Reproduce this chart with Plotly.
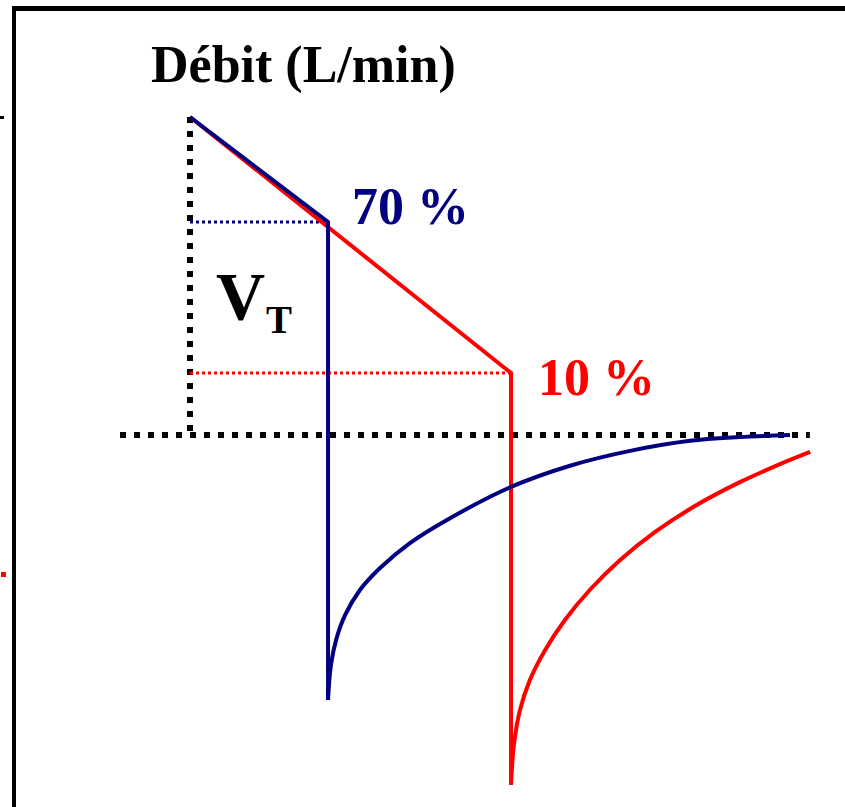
import plotly.graph_objects as go

# inspiratory ramp + cycling drop (time in s, flow in L/min)
peak_flow = 60.0
blue_insp_t = [0.0, 0.43, 0.43]
blue_insp_f = [60.0, 40.2, -50.0]
red_insp_t = [0.0, 1.0, 1.0]
red_insp_f = [60.0, 11.7, -66.0]

# expiratory curves
blue_exp_t = [0.430, 0.439, 0.455, 0.483, 0.530, 0.592, 0.685, 0.810, 1.000, 1.184, 1.371, 1.558, 1.713, 1.869]
blue_exp_f = [-50.0, -43.4, -38.7, -34.0, -29.2, -25.1, -20.4, -15.7, -9.8, -5.8, -3.0, -1.1, -0.4, 0.0]
red_exp_t = [1.000, 1.009, 1.028, 1.059, 1.106, 1.168, 1.246, 1.340, 1.449, 1.573, 1.713, 1.838, 1.932]
red_exp_f = [-66.0, -58.5, -51.9, -46.2, -40.6, -34.9, -29.2, -23.6, -18.3, -13.4, -8.9, -5.5, -3.2]

# guide lines
base_t = [-0.218, 1.931]
blue_cut_f = 40.2
red_cut_f = 11.7

navy = '#000080'
red = '#ff0000'

fig = go.Figure()

# black dotted: tidal volume marker + zero flow line
fig.add_trace(go.Scatter(x=[0, 0], y=[peak_flow, 0], mode='lines',
                         line=dict(color='black', width=6, dash='6px,8px')))
fig.add_trace(go.Scatter(x=base_t, y=[0, 0], mode='lines',
                         line=dict(color='black', width=6, dash='6px,8px')))
# thin coloured dotted guides
fig.add_trace(go.Scatter(x=[0, blue_insp_t[1]], y=[blue_cut_f, blue_cut_f], mode='lines',
                         line=dict(color=navy, width=3, dash='3px,3px')))
fig.add_trace(go.Scatter(x=[0, red_insp_t[1]], y=[red_cut_f, red_cut_f], mode='lines',
                         line=dict(color=red, width=3, dash='3px,3px')))

# red (10 %)
fig.add_trace(go.Scatter(x=red_insp_t, y=red_insp_f, mode='lines',
                         line=dict(color=red, width=4)))
fig.add_trace(go.Scatter(x=red_exp_t, y=red_exp_f, mode='lines',
                         line=dict(color=red, width=4, shape='spline', smoothing=1)))
# blue (70 %)
fig.add_trace(go.Scatter(x=blue_insp_t, y=blue_insp_f, mode='lines',
                         line=dict(color=navy, width=4)))
fig.add_trace(go.Scatter(x=blue_exp_t, y=blue_exp_f, mode='lines',
                         line=dict(color=navy, width=4, shape='spline', smoothing=1)))

W, H = 845, 807


def px(x):
    return x / W


def py(y):
    return 1 - y / H


serif = 'Liberation Serif'


def label(x, y, text, size, color):
    fig.add_annotation(x=px(x), y=py(y), xref='paper', yref='paper', text=text,
                       xanchor='center', yanchor='middle', showarrow=False,
                       font=dict(family=serif, size=size, color=color))


label(303, 65, '<b>Débit (L/min)</b>', 52, 'black')
label(410, 206, '<b>70 %</b>', 52, navy)
label(596, 377, '<b>10 %</b>', 52, red)
label(240, 296, '<b>V</b>', 68, 'black')
label(279, 319, '<b>T</b>', 39, 'black')

# frame and small cropped remnants on the left
fig.add_shape(type='line', xref='paper', yref='paper', x0=px(12), x1=1, y0=py(8.5), y1=py(8.5),
              line=dict(color='black', width=5))
fig.add_shape(type='line', xref='paper', yref='paper', x0=px(14), x1=px(14), y0=py(6), y1=0,
              line=dict(color='black', width=4))
fig.add_shape(type='line', xref='paper', yref='paper', x0=0, x1=px(4), y0=py(117.5), y1=py(117.5),
              line=dict(color='black', width=3))
fig.add_shape(type='line', xref='paper', yref='paper', x0=px(1), x1=px(6), y0=py(574.5), y1=py(574.5),
              line=dict(color=red, width=5))

fig.update_layout(
    width=W, height=H,
    margin=dict(l=0, r=0, t=0, b=0),
    paper_bgcolor='white',
    plot_bgcolor='white',
    showlegend=False,
    xaxis=dict(range=[-190 / 321, (W - 190) / 321], visible=False, fixedrange=True),
    yaxis=dict(range=[-(H - 435) / 5.3, 435 / 5.3], visible=False, fixedrange=True),
)

fig.write_html("out.html", config={'displayModeBar': False},
               post_script="document.body.style.margin='0px';")
